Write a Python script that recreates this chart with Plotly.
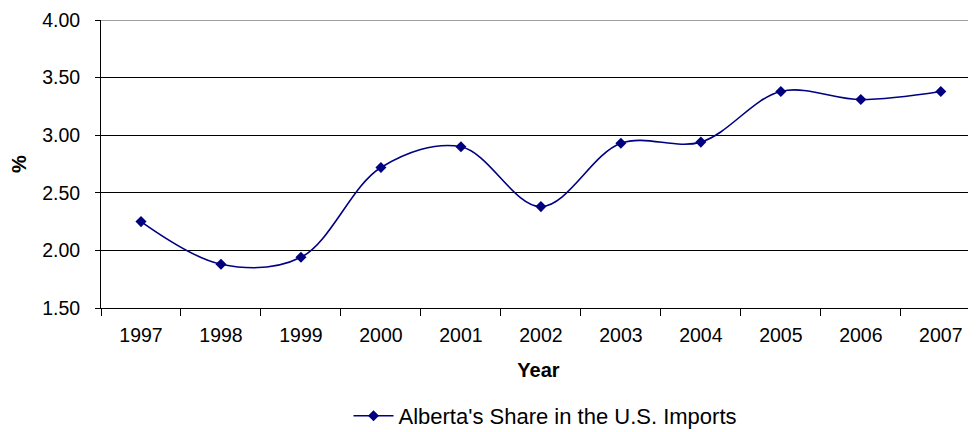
import plotly.graph_objects as go

years = ["1997", "1998", "1999", "2000", "2001", "2002", "2003", "2004", "2005", "2006", "2007"]
share = [2.25, 1.88, 1.94, 2.72, 2.90, 2.38, 2.93, 2.94, 3.38, 3.31, 3.38]
series_name = "Alberta's Share in the U.S. Imports"
y_ticks = [1.5, 2.0, 2.5, 3.0, 3.5, 4.0]

NAVY = "#000080"
FONT = "Liberation Sans, Arial, sans-serif"

fig = go.Figure()
fig.add_trace(go.Scatter(
    x=years, y=share, name=series_name, mode="lines+markers",
    line=dict(color=NAVY, width=1.6, shape="spline", smoothing=1.0),
    marker=dict(symbol="diamond", size=8.5, color=NAVY),
))

# page body has an 8px default margin, so the figure is 8px smaller and offset
fig.update_layout(
    width=968, height=424,
    margin=dict(l=93, r=0, t=11.5, b=124, autoexpand=False),
    paper_bgcolor="white", plot_bgcolor="white",
    font=dict(family=FONT, size=19.5, color="black"),
    showlegend=True,
    legend=dict(orientation="h", x=0.508, xanchor="center", y=-0.375, yanchor="middle",
                font=dict(size=22, family=FONT), itemwidth=40, bgcolor="rgba(0,0,0,0)"),
    xaxis=dict(
        type="category", range=[-0.5, 10.44],
        showgrid=False, showline=True, linecolor="black", linewidth=1,
        ticks="outside", ticklen=7, tickcolor="black", tickson="boundaries",
        ticklabelstandoff=10,
        title=dict(text="<b>Year</b>", font=dict(size=20, family=FONT), standoff=17),
        zeroline=False,
    ),
    yaxis=dict(
        range=[1.5, 4.0], tickvals=y_ticks, tickformat=".2f",
        showgrid=True, gridcolor="black", gridwidth=1,
        showline=True, linecolor="black", linewidth=1,
        ticks="outside", ticklen=5, tickcolor="black",
        ticklabelstandoff=11,
        title=dict(text="<b>%</b>", font=dict(size=20, family=FONT), standoff=14),
        zeroline=False,
    ),
    shapes=[dict(type="line", xref="paper", yref="y", x0=0, x1=1, y0=4.0, y1=4.0,
                 line=dict(color="#808080", width=1.5))],
)

fig.write_html("out.html")
